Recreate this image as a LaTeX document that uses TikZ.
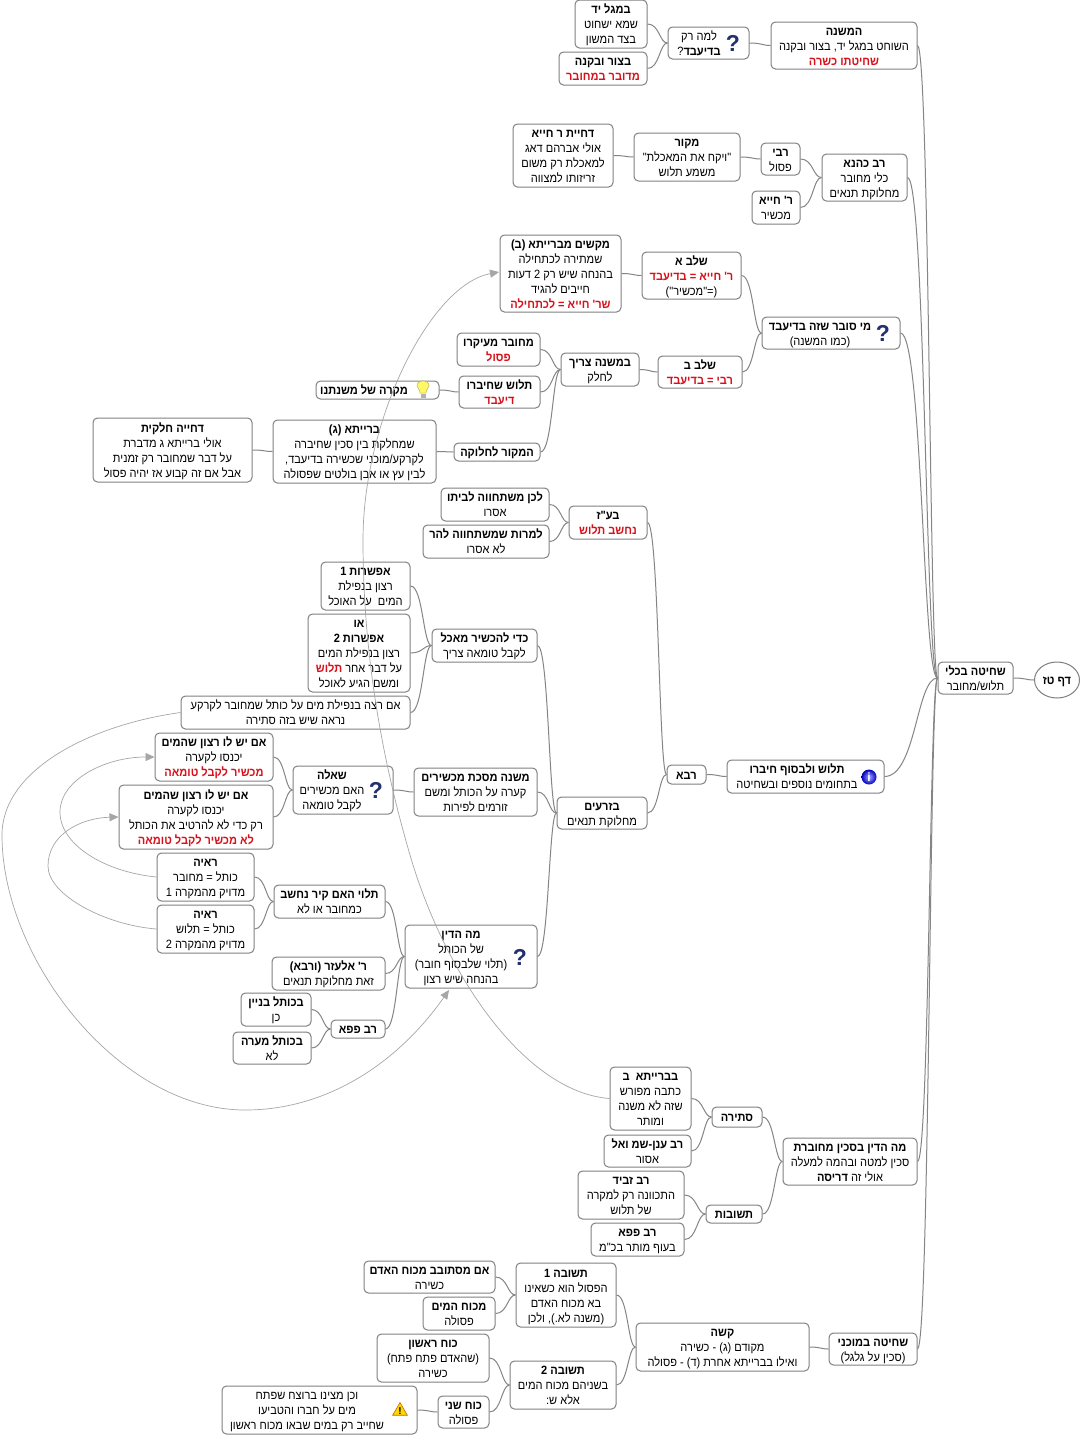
\documentclass[tikz,border=0pt]{standalone}
\usepackage{fontspec}
\usetikzlibrary{calc,arrows.meta,shapes.geometric}
\newfontfamily\hebf[Script=Hebrew,FakeStretch=0.92]{Liberation Sans}
\newfontfamily\qfont{Liberation Sans}
\TeXXeTstate=1
\definecolor{bx}{HTML}{808080}
\definecolor{ln}{HTML}{858585}
\definecolor{xl}{HTML}{A6A6A6}
\definecolor{rd}{HTML}{D8101A}
\definecolor{qc}{HTML}{22306E}
\newcommand\Tx[1]{\beginR #1\endR}
\newcommand\Hb[1]{\beginR\textbf{#1}\endR}
\newcommand\Rd[1]{\textcolor{rd}{\beginR\textbf{#1}\endR}}
\newcommand\topS{\rule[-3pt]{0pt}{15pt}}
\newcommand\botS{\rule[-3pt]{0pt}{3pt}}
\tikzset{
 box/.style={draw=bx,line width=1pt,rounded corners=4.5pt,fill=white,inner sep=0pt,align=center,font=\hebf\fontsize{12}{15}\selectfont},
 lbl/.style={inner sep=0pt,align=center,font=\hebf\fontsize{12}{15}\selectfont},
 conn/.style={draw=ln,line width=1pt},
 xlink/.style={draw=xl,line width=0.7pt,-{Triangle[length=9pt,width=8pt,fill=xl]}},
 qm/.style={inner sep=0pt,text=qc,font=\qfont\bfseries\fontsize{23}{23}\selectfont},
}
\newcommand\mm[6]{\pgfmathsetmacro\cxx{(#2+#4)/2}\pgfmathsetmacro\cyy{(#3+#5)/2}\pgfmathsetmacro\mw{#4-#2}\pgfmathsetmacro\mh{#5-#3}%
 \node[box,minimum width=\mw pt,minimum height=\mh pt] (#1) at (\cxx,\cyy) {\topS #6\botS};}
\newcommand\mi[7]{\pgfmathsetmacro\cxx{(#2+#4)/2}\pgfmathsetmacro\cyy{(#3+#5)/2}\pgfmathsetmacro\mw{#4-#2}\pgfmathsetmacro\mh{#5-#3}%
 \node[box,minimum width=\mw pt,minimum height=\mh pt] (#1) at (\cxx,\cyy) {};
 \node[lbl] (#1t) at (#6,\cyy) {\topS #7\botS};}
\newcommand\cc[2]{\draw[conn] let \p1=(#1.east),\p2=(#2.west),\n1={\x1+0.6*(\x2-\x1)} in (\p1) .. controls (\n1,\y1) and (\n1,\y2) .. (\p2);}
\begin{document}
\begin{tikzpicture}[x=1pt,y=-1pt]
\fill[white] (0,0) rectangle (1080,1435);
\useasboundingbox (0,0) rectangle (1080,1435);
% root
\node[box,ellipse,minimum width=45pt,minimum height=36pt] (root) at (1057,680) {\topS\Hb{דף טז}\botS};
\mm{shita}{938}{662}{1013}{694}{\Hb{שחיטה בכלי}\\\Tx{תלוש/מחובר}}
\mm{mishna}{771}{22}{917}{69}{\Hb{המשנה}\\\Tx{השוחט במגל יד, בצור ובקנה}\\\Rd{שחיטתו כשרה}}
\mi{lama}{668}{27}{749}{59}{699}{\Tx{למה רק}\\\Tx{\textbf{בדיעבד}?}}
\mm{magal}{575}{0}{647}{48}{\Hb{במגל יד}\\\Tx{שמא ישחוט}\\\Tx{בצד המשון}}
\mm{tzur}{559}{52}{647}{85}{\Hb{בצור ובקנה}\\\Rd{מדובר במחובר}}
\mm{kahana}{822}{154}{907}{201}{\Hb{רב כהנא}\\\Tx{כלי מחובר}\\\Tx{מחלוקת תנאים}}
\mm{rabi}{761}{143}{800}{175}{\Hb{רבי}\\\Tx{פסול}}
\mm{rhiya}{752}{191}{800}{224}{\Hb{ר' חייא}\\\Tx{מכשיר}}
\mm{makor}{634}{133}{740}{181}{\Hb{מקור}\\\Tx{"ויקח את המאכלת"}\\\Tx{משמע תלוש}}
\mm{dhiyat}{513}{124}{613}{187}{\Hb{דחיית ר חייא}\\\Tx{אולי אברהם דאג}\\\Tx{למאכלת רק משום}\\\Tx{זריזותו למצווה}}
\mi{misover}{762}{317}{900}{349}{820}{\Hb{מי סובר שזה בדיעבד}\\\Tx{(כמו המשנה)}}
\mm{shlava}{642}{252}{741}{299}{\Hb{שלב א}\\\Rd{ר' חייא = בדיעבד}\\\Tx{(="מכשיר")}}
\mm{makshim}{500}{235}{621}{312}{\Hb{מקשים מברייתא (ב)}\\\Tx{שמתירה לכתחילה}\\\Tx{בהנחה שיש רק 2 דעות}\\\Tx{חייבים להגיד}\\\Rd{שר' חייא = לכתחילה}}
\mm{shlavb}{658}{356}{742}{388}{\Hb{שלב ב}\\\Rd{רבי = בדיעבד}}
\mm{bamishna}{561}{353}{639}{386}{\Hb{במשנה צריך}\\\Tx{לחלק}}
\mm{mehubar}{457}{333}{540}{366}{\Hb{מחובר מעיקרו}\\\Rd{פסול}}
\mm{talush}{459}{376}{540}{408}{\Hb{תלוש שחיברו}\\\Rd{דיעבד}}
\mi{mikre}{316}{381}{439}{399}{364}{\Hb{מקרה של משנתנו}}
\mm{hamakor}{454}{443}{540}{461}{\Hb{המקור לחלוקה}}
\mm{brg}{273}{420}{436}{483}{\Hb{ברייתא (ג)}\\\Tx{שמחלקת בין סכין שחיברה}\\\Tx{לקרקע/מוכני שכשירה בדיעבד,}\\\Tx{לבין עץ או אבן בולטים שפסולה}}
\mm{dhiya}{93}{418}{252}{482}{\Hb{דחייה חלקית}\\\Tx{אולי ברייתא ג מדברת}\\\Tx{על דבר שמחובר רק זמנית}\\\Tx{אבל אם זה קבוע אז יהיה פסול}}
\mm{baaz}{569}{506}{647}{539}{\Hb{בע"ז}\\\Rd{נחשב תלוש}}
\mm{lachen}{441}{488}{549}{521}{\Hb{לכן משתחווה לביתו}\\\Tx{אסרו}}
\mm{lamrot}{423}{525}{549}{558}{\Hb{למרות שמשתחווה להר}\\\Tx{לא אסרו}}
\mm{rava}{667}{765}{706}{784}{\Hb{רבא}}
\mi{talv}{727}{760}{884}{793}{797}{\Hb{תלוש ולבסוף חיברו}\\\Tx{בתחומים נוספים ובשחיטה}}
\mm{zraim}{557}{797}{647}{829}{\Hb{בזרעים}\\\Tx{מחלוקת תנאים}}
\mm{kdei}{432}{629}{537}{662}{\Hb{כדי להכשיר מאכל}\\\Tx{לקבל טומאה צריך}}
\mm{ef}{321}{562}{410}{610}{\Hb{אפשרות 1}\\\Tx{רצון בנפילת}\\\Tx{המים\ \ על האוכל}}
\mm{efb}{308}{614}{410}{692}{\Hb{או}\\\Hb{אפשרות 2}\\\Tx{רצון בנפילת המים}\\\Rd{תלוש}\ \Tx{על דבר אחר}\\\Tx{ומשם הגיע לאוכל}}
\mm{imratza}{181}{696}{410}{729}{\Tx{אם רצה בנפילת מים על כותל שמחובר לקרקע}\\\Tx{נראה שיש בזה סתירה}}
\mm{mmach}{414}{768}{537}{816}{\Hb{משנה מסכת מכשירים}\\\Tx{קערה על הכותל ומשם}\\\Tx{זורמים לפירות}}
\mi{sheela}{293}{766}{393}{814}{332}{\Hb{שאלה}\\\Tx{האם מכשירים}\\\Tx{לקבל טומאה}}
\mm{imy}{155}{733}{273}{781}{\Hb{אם יש לו רצון שהמים}\\\Tx{יכנסו לקערה}\\\Rd{מכשיר לקבל טומאה}}
\mm{imyb}{119}{785}{273}{849}{\Hb{אם יש לו רצון שהמים}\\\Tx{יכנסו לקערה}\\\Tx{רק כדי לא להרטיב את הכותל}\\\Rd{לא מכשיר לקבל טומאה}}
\mm{raya}{157}{853}{254}{901}{\Hb{ראיה}\\\Tx{כותל = מחובר}\\\Tx{מדויק מהמקרה 1}}
\mm{rayab}{157}{905}{254}{953}{\Hb{ראיה}\\\Tx{כותל = תלוש}\\\Tx{מדויק מהמקרה 2}}
\mm{taluy}{274}{885}{385}{918}{\Hb{תלוי האם קיר נחשב}\\\Tx{כמחובר או לא}}
\mi{madin}{405}{925}{537}{988}{461}{\Hb{מה הדין}\\\Tx{של הכותל}\\\Tx{(תלוי שלבסוף חובר)}\\\Tx{בהנחה שיש רצון}}
\mm{elazar}{272}{957}{385}{990}{\Hb{ר' אלעזר (ורבא)}\\\Tx{זאת מחלוקת תנאים}}
\mm{papa}{331}{1020}{385}{1038}{\Hb{רב פפא}}
\mm{binyan}{241}{993}{311}{1026}{\Hb{בכותל בניין}\\\Tx{כן}}
\mm{maara}{233}{1032}{311}{1064}{\Hb{בכותל מערה}\\\Tx{לא}}
\mm{sakin}{783}{1138}{917}{1185}{\Hb{מה הדין בסכין מחוברת}\\\Tx{סכין למטה ובהמה למעלה}\\\Tx{אולי זה \textbf{דריסה}}}
\mm{stira}{712}{1107}{762}{1127}{\Hb{סתירה}}
\mm{tshuvot}{706}{1205}{762}{1223}{\Hb{תשובות}}
\mm{bbrb}{610}{1067}{691}{1130}{\Hb{בברייתא\ \ ב}\\\Tx{כתבה מפורש}\\\Tx{שזה לא משנה}\\\Tx{ומותר}}
\mm{anan}{604}{1135}{691}{1167}{\Hb{רב ענן-שמ ואל}\\\Tx{אסור}}
\mm{zvid}{578}{1171}{684}{1219}{\Hb{רב זביד}\\\Tx{התכוונה רק למקרה}\\\Tx{של תלוש}}
\mm{papab}{591}{1223}{684}{1256}{\Hb{רב פפא}\\\Tx{בעוף מותר בכ"מ}}
\mm{mochni}{829}{1333}{917}{1365}{\Hb{שחיטה במוכני}\\\Tx{(סכין על גלגל)}}
\mm{kashe}{636}{1323}{809}{1371}{\Hb{קשה}\\\Tx{מקודם (ג) - כשירה}\\\Tx{ואילו בברייתא אחרת (ד) - פסולה}}
\mm{tsha}{516}{1263}{616}{1327}{\Hb{תשובה 1}\\\Tx{הפסול הוא כשאינו}\\\Tx{בא מכוח האדם}\\\Tx{(משנה לא.), ולכן}}
\mm{tshb}{510}{1361}{616}{1409}{\Hb{תשובה 2}\\\Tx{בשניהם מכוח המים}\\\Tx{אלא ש:}}
\mm{mistovev}{364}{1261}{495}{1293}{\Hb{אם מסתובב מכוח האדם}\\\Tx{כשירה}}
\mm{mayim}{423}{1297}{495}{1330}{\Hb{מכוח המים}\\\Tx{פסולה}}
\mm{rishon}{377}{1334}{489}{1382}{\Hb{כוח ראשון}\\\Tx{(שהאדם פתח פתח)}\\\Tx{כשירה}}
\mm{sheni}{438}{1396}{489}{1428}{\Hb{כוח שני}\\\Tx{פסולה}}
\mi{retzach}{222}{1386}{417}{1434}{307}{\Tx{וכן מצינו ברוצח שפתח}\\\Tx{מים על חברו והטביעו}\\\Tx{שחייב רק במים שבאו מכוח ראשון}}
% connectors
\cc{shita}{root}
\foreach \c in {mishna,kahana,misover,talv,sakin,mochni}{\cc{\c}{shita}}
\cc{lama}{mishna}\cc{magal}{lama}\cc{tzur}{lama}
\cc{rabi}{kahana}\cc{rhiya}{kahana}\cc{makor}{rabi}\cc{dhiyat}{makor}
\cc{shlava}{misover}\cc{shlavb}{misover}\cc{makshim}{shlava}\cc{bamishna}{shlavb}
\cc{mehubar}{bamishna}\cc{talush}{bamishna}\cc{hamakor}{bamishna}
\cc{mikre}{talush}\cc{brg}{hamakor}\cc{dhiya}{brg}
\cc{rava}{talv}\cc{baaz}{rava}\cc{zraim}{rava}
\cc{lachen}{baaz}\cc{lamrot}{baaz}
\cc{kdei}{zraim}\cc{mmach}{zraim}\cc{madin}{zraim}
\cc{ef}{kdei}\cc{efb}{kdei}\cc{imratza}{kdei}
\cc{sheela}{mmach}\cc{imy}{sheela}\cc{imyb}{sheela}
\cc{taluy}{madin}\cc{elazar}{madin}\cc{papa}{madin}
\cc{raya}{taluy}\cc{rayab}{taluy}\cc{binyan}{papa}\cc{maara}{papa}
\cc{stira}{sakin}\cc{tshuvot}{sakin}\cc{bbrb}{stira}\cc{anan}{stira}\cc{zvid}{tshuvot}\cc{papab}{tshuvot}
\cc{kashe}{mochni}\cc{tsha}{kashe}\cc{tshb}{kashe}
\cc{mistovev}{tsha}\cc{mayim}{tsha}\cc{rishon}{tshb}\cc{sheni}{tshb}\cc{retzach}{sheni}
% cross links
\coordinate (mkt) at (499,272);
\coordinate (mdt) at (449,990);
\draw[xlink] (bbrb.west) .. controls (525,1092) and (445,975) .. (410,855) .. controls (372,725) and (363,620) .. (363,540) .. controls (363,420) and (430,285) .. (mkt);
\draw[xlink] (imratza.west) .. controls (90,725) and (2,770) .. (2,835) .. controls (2,960) and (120,1110) .. (245,1110) .. controls (330,1110) and (400,1060) .. (mdt);
\draw[xlink] (raya.west) .. controls (105,872) and (60,845) .. (60,812) .. controls (60,780) and (105,757) .. (imy.west);
\draw[xlink] (rayab.west) .. controls (105,925) and (48,895) .. (48,866) .. controls (48,835) and (80,818) .. (imyb.west);
% icons
\node[qm] (q1) at (733,43) {?};
\node[qm] (q2) at (883,333) {?};
\node[qm] (q3) at (376,790) {?};
\node[qm] (q4) at (520,957) {?};
\node[circle,shade,inner color=blue!35!white,outer color=blue!75!black,minimum size=15pt,inner sep=0pt,text=white,font=\qfont\bfseries\fontsize{12}{12}\selectfont] (info) at (869,777) {i};
\fill[yellow!60!white,draw=olive!60,line width=0.5pt] (420,393) .. controls (420,389) and (417,388) .. (417,386) .. controls (417,379) and (429,379) .. (429,386) .. controls (429,388) and (426,389) .. (426,393) -- cycle;
\fill[gray!60] (420.5,393.5) rectangle (425.5,397.5);
\node[regular polygon,regular polygon sides=3,fill=yellow!75!orange,draw=orange!80!black,line width=0.6pt,minimum size=17pt,inner sep=0pt] (warn) at (400,1411) {};
\node[inner sep=0pt,font=\qfont\bfseries\fontsize{10}{10}\selectfont] (warnx) at (400,1411) {!};
\end{tikzpicture}
\end{document}
